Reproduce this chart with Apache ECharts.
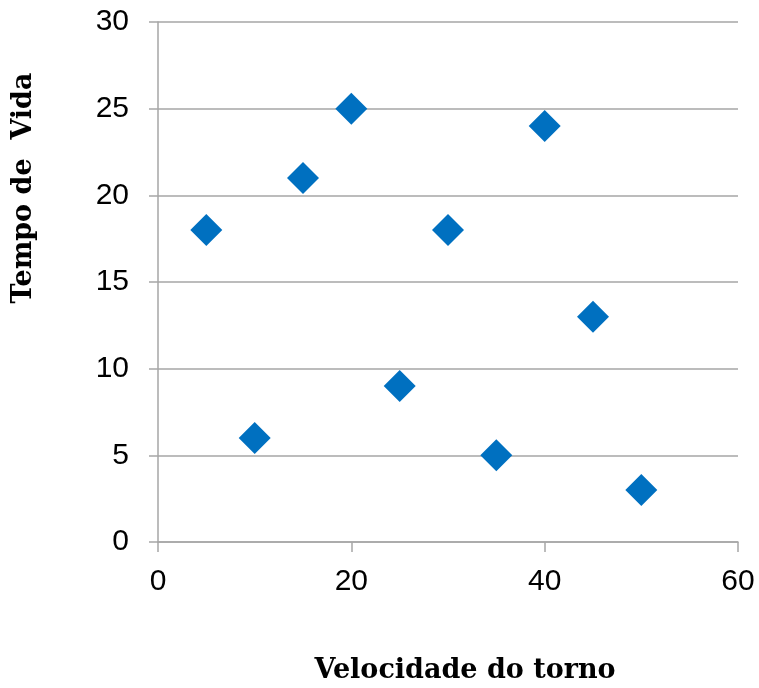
<!DOCTYPE html>
<html>
<head>
<meta charset="utf-8">
<script src="https://cdn.jsdelivr.net/npm/echarts@6/dist/echarts.min.js"></script>
<style>
html,body{margin:0;padding:0;background:#fff;}
#chart{width:759px;height:688px;}
</style>
</head>
<body>
<div id="chart"></div>
<script>
// Lathe speed vs. tool life measurements
const velocidade = [5, 10, 15, 20, 25, 30, 35, 40, 45, 50];
const tempoVida = [18, 6, 21, 25, 9, 18, 5, 24, 13, 3];
const xTicks = [0, 20, 40, 60];
const yTicks = [0, 5, 10, 15, 20, 25, 30];

const chart = echarts.init(document.getElementById('chart'));
const points = velocidade.map((v, i) => [v, tempoVida[i]]);

chart.setOption({
  animation: false,
  grid: { left: 158, right: 21, top: 22, bottom: 146, containLabel: false },
  xAxis: {
    type: 'value',
    min: xTicks[0], max: xTicks[xTicks.length - 1], interval: 20,
    axisLine: { show: true, lineStyle: { color: '#a6a6a6', width: 1.5 } },
    axisTick: { show: true, length: 10, lineStyle: { color: '#a6a6a6', width: 1.5 } },
    splitLine: { show: false },
    axisLabel: { margin: 25, fontFamily: '"Liberation Sans", Arial', fontSize: 30, color: '#000' }
  },
  yAxis: {
    type: 'value',
    min: yTicks[0], max: yTicks[yTicks.length - 1], interval: 5,
    axisLine: { show: true, lineStyle: { color: '#a6a6a6', width: 1.5 } },
    axisTick: { show: true, length: 9, lineStyle: { color: '#a6a6a6', width: 1.5 } },
    splitLine: { show: true, lineStyle: { color: '#a6a6a6', width: 1.5 } },
    axisLabel: { margin: 29, fontFamily: '"Liberation Sans", Arial', fontSize: 30, color: '#000' }
  },
  series: [{
    type: 'scatter',
    data: points,
    symbol: 'diamond',
    symbolSize: 32,
    itemStyle: { color: '#0070C0', opacity: 1 }
  }],
  graphic: [
    {
      type: 'text',
      x: 465, y: 671,
      style: { text: 'Velocidade do torno', fontFamily: '"DejaVu Serif", serif', fontWeight: 'bold', fontSize: 27, fill: '#000', align: 'center', verticalAlign: 'middle' }
    },
    {
      type: 'text',
      x: 24, y: 188,
      rotation: Math.PI / 2,
      style: { text: 'Tempo de  Vida', fontFamily: '"DejaVu Serif", serif', fontWeight: 'bold', fontSize: 27, fill: '#000', align: 'center', verticalAlign: 'middle' }
    }
  ]
});
</script>
</body>
</html>
